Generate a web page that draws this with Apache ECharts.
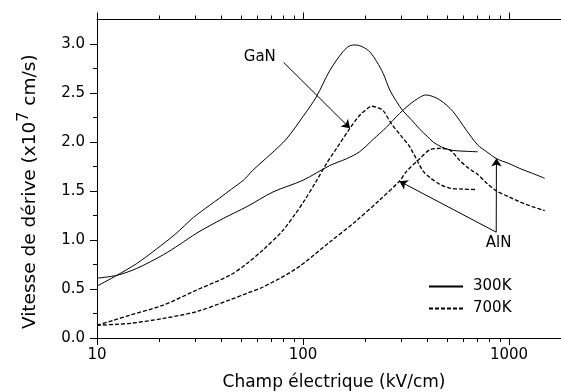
<!DOCTYPE html>
<html>
<head>
<meta charset="utf-8">
<script src="https://cdn.jsdelivr.net/npm/echarts@6/dist/echarts.min.js"></script>
<style>html,body{margin:0;padding:0;background:#fff}#c{width:561px;height:392px}</style>
</head>
<body>
<div id="c"></div>
<script>
// ---- data (x in kV/cm, y in 1e7 cm/s) ----
const ganT300 = [[10,0.53],[12.5,0.64],[15.6,0.76],[19.5,0.91],[24,1.06],[29.4,1.23],[35,1.35],[39.5,1.43],[45,1.52],[51.4,1.61],[57,1.71],[70,1.88],[83,2.03],[100,2.26],[116,2.46],[135,2.73],[156,2.92],[168,2.98],[180,2.99],[195,2.97],[211,2.92],[228,2.82],[245,2.70],[264,2.53],[285,2.41],[305,2.32],[335,2.23],[369,2.13],[400,2.06],[428,2.0],[470,1.95],[515,1.92],[560,1.91],[705,1.90]];
const alnT300 = [[10,0.61],[12.5,0.64],[15.6,0.71],[21,0.85],[25,0.95],[30.5,1.07],[41,1.22],[53.4,1.34],[71.5,1.49],[100,1.61],[135,1.76],[163,1.83],[188,1.90],[220,2.03],[254,2.15],[294,2.29],[342,2.41],[397,2.48],[461,2.43],[535,2.31],[621,2.12],[705,1.97],[780,1.90],[869,1.83],[1000,1.78],[1128,1.73],[1300,1.68],[1490,1.63]];
const ganT700 = [[10,0.13],[12,0.18],[14.5,0.234],[21,0.336],[30.5,0.49],[44.2,0.64],[53.4,0.76],[64,0.90],[80,1.10],[92,1.27],[100,1.38],[116,1.60],[130,1.78],[145,1.93],[169,2.14],[188,2.27],[205,2.34],[215,2.365],[230,2.35],[245,2.32],[268,2.19],[300,2.06],[330,1.95],[381,1.71],[412,1.64],[460,1.57],[515,1.53],[600,1.52],[695,1.515]];
const alnT700 = [[10,0.13],[14.5,0.15],[21,0.20],[30.5,0.27],[44.2,0.39],[53.4,0.456],[64,0.52],[93,0.71],[135,0.98],[180,1.19],[236,1.41],[294,1.60],[318,1.70],[369,1.83],[412,1.92],[461,1.934],[515,1.92],[577,1.81],[621,1.75],[669,1.70],[695,1.68],[780,1.58],[869,1.50],[1000,1.44],[1128,1.39],[1300,1.34],[1490,1.30]];

const xMajorTicks = [10, 100, 1000];
const xMinorTicks = [20,30,40,50,60,70,80,90,200,300,400,500,600,700,800,900];
const yMajorTicks = [0, 0.5, 1.0, 1.5, 2.0, 2.5, 3.0];
const yMinorTicks = [0.25, 0.75, 1.25, 1.75, 2.25, 2.75];

// annotation anchors (data coordinates)
const ganArrow = [[80.5, 2.813], [169, 2.14]];
const alnArrowA = [[867, 1.08], [869, 1.832]];
const alnArrowB = [[867, 1.08], [294, 1.60]];
const labelPoints = [{name: 'GaN', coord: [61.7, 2.864]}, {name: 'AlN', coord: [891, 0.968]}];

const FONT = 'DejaVu Sans';
const Y_MAX = 3.25;
const chart = echarts.init(document.getElementById('c'));

function xAx(pos) {
  return {
    type: 'log', logBase: 10, min: 10, max: 2000, position: pos,
    axisLine: {show: true, onZero: false, lineStyle: {color: '#000', width: 1}},
    axisTick: {show: false},
    axisLabel: {show: pos === 'bottom', showMaxLabel: false, margin: 10, color: '#000', fontFamily: FONT, fontSize: 15,
                formatter: v => String(v)},
    splitLine: {show: false},
    name: pos === 'bottom' ? 'Champ électrique (kV/cm)' : '',
    nameLocation: 'middle', nameGap: 36,
    nameTextStyle: {color: '#000', fontFamily: FONT, fontSize: 17}
  };
}

const solid = {color: '#000', width: 1, type: 'solid'};
const dashed = {color: '#000', width: 1.3, type: [4, 2]};
const xTickData = xMajorTicks.concat(xMinorTicks).map(v => [v, 0]);

chart.setOption({
  animation: false,
  backgroundColor: '#fff',
  grid: {left: 97, right: -10, top: 19.5, bottom: 54, containLabel: false, outerBoundsMode: 'none'},
  xAxis: [xAx('bottom'), xAx('top')],
  yAxis: [
    {type: 'value', min: 0, max: Y_MAX, position: 'left',
     axisLine: {show: true, onZero: false, lineStyle: {color: '#000', width: 1}},
     axisTick: {show: true, inside: false, length: 7, customValues: yMajorTicks, lineStyle: {color: '#000'}},
     axisLabel: {customValues: yMajorTicks, formatter: v => v.toFixed(1), margin: 12, color: '#000', fontFamily: FONT, fontSize: 15},
     splitLine: {show: false}},
    {type: 'value', min: 0, max: Y_MAX, position: 'left',
     axisLine: {show: false, onZero: false},
     axisTick: {show: true, inside: false, length: 4, customValues: yMinorTicks, lineStyle: {color: '#000'}},
     axisLabel: {show: false}, splitLine: {show: false}}
  ],
  legend: {
    orient: 'vertical', left: 428, top: 279, padding: 0, itemWidth: 34, itemHeight: 14, itemGap: 7,
    data: ['300K', '700K'],
    itemStyle: {opacity: 0},
    textStyle: {color: '#000', fontFamily: FONT, fontSize: 15, padding: [0, 0, 0, 5]}
  },
  series: [
    {name: '300K', type: 'line', data: ganT300, symbol: 'none', smooth: 0.3, lineStyle: solid, itemStyle: {color: '#000'},
     markLine: {silent: true, symbol: ['none', 'arrow'], symbolSize: 8, label: {show: false},
       lineStyle: {color: '#000', width: 1, type: 'solid'},
       data: [
         [{coord: ganArrow[0]}, {coord: ganArrow[1]}],
         [{coord: alnArrowA[0]}, {coord: alnArrowA[1]}],
         [{coord: alnArrowB[0]}, {coord: alnArrowB[1]}]
       ]},
     markPoint: {silent: true, symbol: 'circle', symbolSize: 1, itemStyle: {color: 'rgba(0,0,0,0)'},
       label: {show: true, position: 'inside', formatter: '{b}', color: '#000', fontFamily: FONT, fontSize: 15},
       data: labelPoints}},
    {name: '300K', type: 'line', data: alnT300, symbol: 'none', smooth: 0.3, lineStyle: solid, itemStyle: {color: '#000'}},
    {name: '700K', type: 'line', data: ganT700, symbol: 'none', smooth: 0.3, lineStyle: dashed, itemStyle: {color: '#000'}},
    {name: '700K', type: 'line', data: alnT700, symbol: 'none', smooth: 0.3, lineStyle: dashed, itemStyle: {color: '#000'}},
    {name: 'xticks', type: 'custom', silent: true, clip: false, data: xTickData,
     renderItem: function (params, api) {
       const v = api.value(0);
       const len = xMajorTicks.indexOf(v) >= 0 ? 7 : 4;
       const pb = api.coord([v, 0]);
       const pt = api.coord([v, Y_MAX]);
       const x = Math.round(pb[0]) + 0.5;
       return {type: 'group', children: [
         {type: 'line', shape: {x1: x, y1: pb[1], x2: x, y2: pb[1] + len}, style: {stroke: '#000', lineWidth: 1}},
         {type: 'line', shape: {x1: x, y1: pt[1], x2: x, y2: pt[1] - len}, style: {stroke: '#000', lineWidth: 1}}
       ]};
     }}
  ],
  graphic: [{
    type: 'text', x: 28, y: 191.7, rotation: Math.PI / 2,
    style: {
      text: '{a|Vitesse de dérive (x10}{s|7}{a| cm/s)}',
      align: 'center', verticalAlign: 'middle', fill: '#000',
      rich: {
        a: {fontFamily: FONT, fontSize: 18.5, color: '#000', verticalAlign: 'bottom', lineHeight: 24},
        s: {fontFamily: FONT, fontSize: 16, color: '#000', verticalAlign: 'top', lineHeight: 24}
      }
    }
  }]
});
</script>
</body>
</html>
